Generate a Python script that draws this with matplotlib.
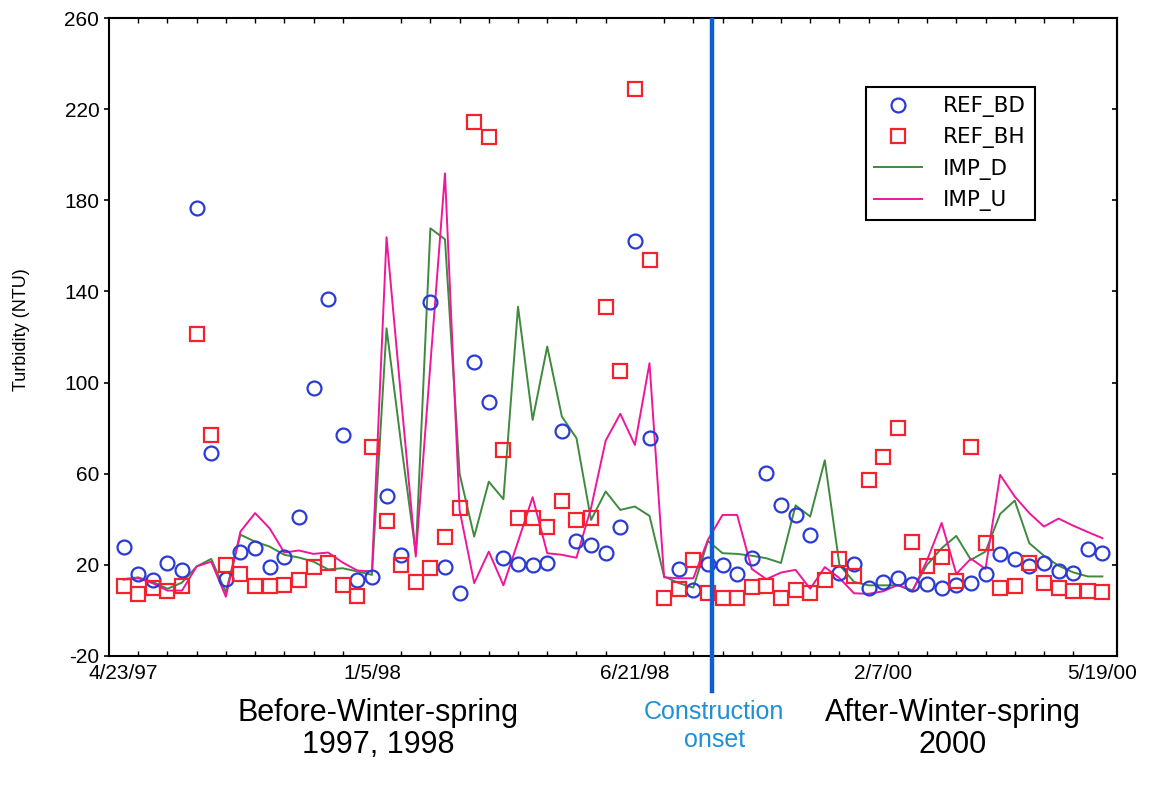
import matplotlib.pyplot as plt
import numpy as np

plt.rcParams['font.family'] = ['Liberation Sans', 'DejaVu Sans']
plt.rcParams['axes.unicode_minus'] = False

# sample sequence, one entry per sampling trip
n_samples = 68
sample_idx = np.arange(n_samples)
date_ticks = [0, 17, 35, 52, 67]
date_labels = ["4/23/97", "1/5/98", "6/21/98", "2/7/00", "5/19/00"]
construction_idx = 40.3

nan = np.nan
ref_bd = [28.0, 16.0, 13.4, 21.0, 17.8, 176.5, 68.9, 13.8, 25.5, 27.3,
          19.0, 23.4, 41.2, 97.8, 136.7, 77.0, 13.4, 14.6, 50.3, 24.2,
          nan, 135.2, 19.0, 7.8, 109.0, 91.5, 22.9, 20.2, 19.8, 21.0,
          78.9, 30.6, 28.5, 25.4, 36.6, 162.2, 75.6, nan, 18.2, 8.8,
          20.3, 20.0, 16.0, 22.9, 60.5, 46.3, 41.9, 33.3, nan, 16.3,
          20.2, 9.8, 12.4, 14.1, 11.6, 11.6, 9.8, 11.2, 11.9, 16.0,
          24.7, 22.5, 19.3, 21.0, 17.1, 16.6, 27.0, 25.1]
ref_bh = [10.9, 7.1, 9.8, 8.3, 10.5, 121.3, 77.0, 20.0, 15.9, 10.8,
          10.8, 11.2, 13.4, 19.0, 21.0, 11.2, 6.4, 71.5, 39.3, 20.0,
          12.4, 18.5, 32.4, 44.8, 214.4, 207.8, 70.4, 40.5, 40.5, 36.8,
          48.1, 39.7, 40.5, 133.3, 105.2, 228.7, 153.6, 5.4, 9.3, 22.2,
          7.6, 5.4, 5.4, 10.2, 10.8, 5.4, 9.0, 7.8, 13.4, 22.5,
          14.9, 57.3, 67.5, 80.2, 30.0, 19.3, 23.6, 13.1, 71.9, 29.8,
          9.8, 10.5, 20.7, 11.9, 9.8, 8.3, 8.3, 8.0]
imp_d = [13.7, 14.5, 12.5, 9.5, 12.2, 19.3, 22.6, 8.0, 33.2, 30.2,
         28.0, 24.4, 23.2, 21.4, 18.0, 18.5, 17.1, 15.6, 123.8, 73.0,
         25.0, 167.7, 162.9, 60.0, 32.4, 56.5, 48.8, 133.3, 83.6, 115.8,
         85.1, 75.6, 39.7, 52.2, 44.1, 45.6, 41.5, 14.9, 12.0, 10.0,
         30.5, 25.1, 24.8, 24.0, 22.9, 20.8, 46.1, 41.2, 65.9, 20.0,
         12.5, 11.0, 11.0, 11.0, 8.8, 20.0, 27.3, 32.7, 22.2, 25.8,
         42.3, 48.2, 29.5, 24.0, 19.6, 16.7, 14.9, 14.9]
imp_u = [13.5, 14.1, 11.9, 8.7, 8.7, 19.3, 21.4, 6.0, 34.6, 42.7,
         36.0, 25.4, 26.3, 24.8, 25.4, 21.0, 17.5, 17.1, 163.8, 93.0,
         23.6, 108.0, 191.8, 44.0, 12.0, 25.8, 11.0, 30.2, 49.7, 25.1,
         24.4, 23.1, 45.0, 74.5, 86.3, 72.6, 108.5, 14.5, 14.1, 14.1,
         31.0, 41.9, 41.9, 18.2, 13.7, 16.6, 17.8, 9.5, 19.0, 14.2,
         7.5, 7.3, 8.4, 11.2, 8.4, 22.0, 38.4, 16.0, 22.7, 18.2,
         59.5, 50.0, 42.7, 36.8, 40.3, 37.2, 34.4, 31.7]

fig = plt.figure(figsize=(11.52, 7.87), dpi=100)
ax = fig.add_axes([0.0946, 0.1665, 0.875, 0.8106])

ax.plot(sample_idx, ref_bd, linestyle='none', marker='o', markersize=10,
        markerfacecolor='none', markeredgecolor='#2a3ad4',
        markeredgewidth=1.6, label='REF_BD', zorder=4)
ax.plot(sample_idx, ref_bh, linestyle='none', marker='s', markersize=10,
        markerfacecolor='none', markeredgecolor='#f5222d',
        markeredgewidth=1.6, label='REF_BH', zorder=4)
ax.plot(sample_idx, imp_d, color='#3f8a3f', lw=1.4, label='IMP_D', zorder=3)
ax.plot(sample_idx, imp_u, color='#f0169a', lw=1.4, label='IMP_U', zorder=3)

# construction onset marker runs a little below the axis
ax.axvline(construction_idx, ymin=-0.055, ymax=0.997, color='#0a5fd4',
           lw=3.2, clip_on=False, zorder=5)

ax.set_xlim(-1, 68)
ax.set_ylim(-20, 260)
ax.set_yticks(np.arange(-20, 261, 40))
ax.set_xticks(date_ticks)
ax.set_xticklabels(date_labels)
ax.set_xticks(np.arange(1, n_samples, 2), minor=True)

ax.tick_params(axis='x', which='major', length=0, pad=6, labelsize=15)
ax.tick_params(axis='x', which='minor', direction='in', length=3.5,
               width=1, top=True, bottom=True)
ax.tick_params(axis='y', which='major', direction='out', length=3.5,
               width=1.2, labelsize=15)

right = ax.secondary_yaxis('right')
right.set_yticks(np.arange(-20, 261, 40))
right.tick_params(direction='in', length=3.5, width=1.2, labelright=False)
right.spines['right'].set_linewidth(1.5)

for side in ax.spines.values():
    side.set_linewidth(1.5)

ax.set_ylabel('Turbidity (NTU)', fontsize=13)
ax.yaxis.set_label_coords(-0.078, 0.511)

leg = ax.legend(loc='upper left', bbox_to_anchor=(0.74, 0.908),
                frameon=True, fancybox=False, edgecolor='black',
                framealpha=1, borderpad=0.4, handlelength=2.2,
                handletextpad=1.0, labelspacing=0.48,
                prop={'family': 'DejaVu Sans', 'size': 15.5})
leg.get_frame().set_linewidth(1.5)

fig.text(0.328, 0.094, 'Before-Winter-spring', ha='center', va='center',
         fontsize=22)
fig.text(0.328, 0.053, '1997, 1998', ha='center', va='center', fontsize=22)
fig.text(0.620, 0.095, 'Construction', ha='center', va='center',
         fontsize=18, color='#1f8fd6')
fig.text(0.620, 0.060, 'onset', ha='center', va='center', fontsize=18,
         color='#1f8fd6')
fig.text(0.827, 0.094, 'After-Winter-spring', ha='center', va='center',
         fontsize=22)
fig.text(0.827, 0.053, '2000', ha='center', va='center', fontsize=22)

fig.savefig('out.png', dpi=100)
